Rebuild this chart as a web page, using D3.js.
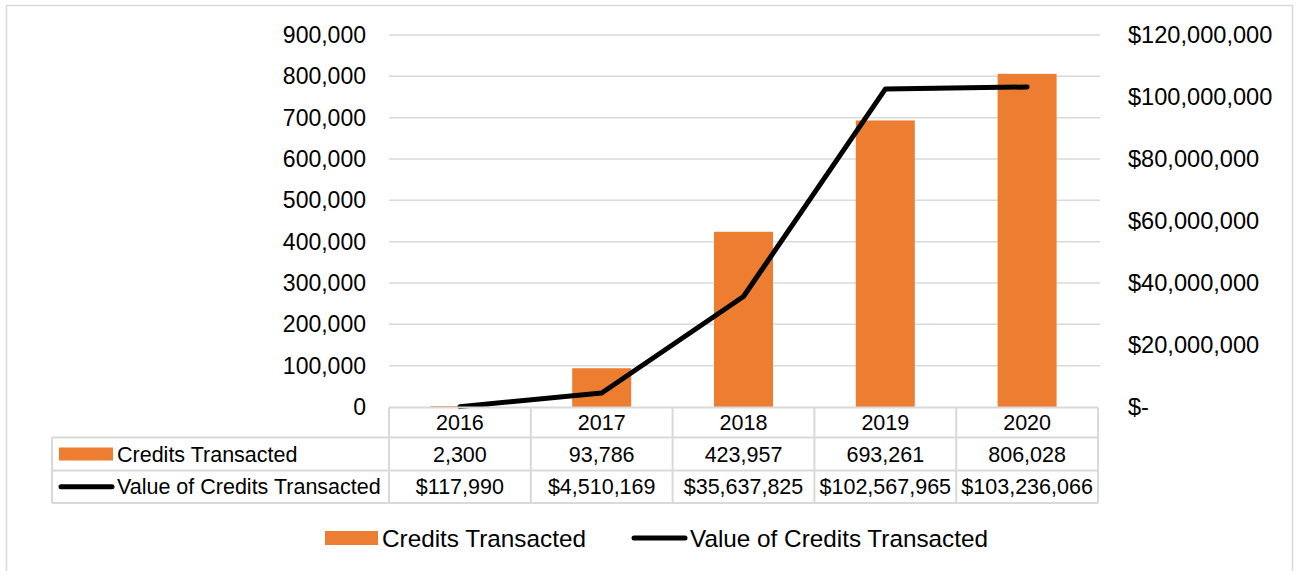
<!DOCTYPE html>
<meta charset="utf-8">
<style>
body { margin: 0; background: #fff; }
text { font-family: "Liberation Sans", Arial, sans-serif; fill: #000; }
.grid line { stroke: #d9d9d9; stroke-width: 1.5; }
.tbl line { stroke: #d9d9d9; stroke-width: 2; }
</style>
<body>
<script src="https://cdn.jsdelivr.net/npm/d3@7"></script>
<script>

var years = ["2016", "2017", "2018", "2019", "2020"];
var credits = [2300, 93786, 423957, 693261, 806028];
var values = [117990, 4510169, 35637825, 102567965, 103236066];
var seriesNames = ["Credits Transacted", "Value of Credits Transacted"];
var leftTicks = [0, 100000, 200000, 300000, 400000, 500000, 600000, 700000, 800000, 900000];
var rightTicks = [0, 20000000, 40000000, 60000000, 80000000, 100000000, 120000000];

var width = 1299, height = 571;
var plotL = 389, plotR = 1098, plotT = 35, plotB = 407;
var orange = "#ed7d31";

var svg = d3.select("body").append("svg")
    .attr("width", width)
    .attr("height", height);

// chart border
svg.append("rect")
    .attr("x", 6.5).attr("y", 5.5)
    .attr("width", 1286).attr("height", 620)
    .attr("fill", "none")
    .attr("stroke", "#d9d9d9")
    .attr("stroke-width", 1.5);

var x = d3.scaleBand().domain(years).range([plotL, plotR]).padding(0);
var y = d3.scaleLinear().domain([0, 900000]).range([plotB, plotT]);
var y2 = d3.scaleLinear().domain([0, 120000000]).range([plotB, plotT]);

// gridlines
svg.append("g").attr("class", "grid")
  .selectAll("line")
    .data(leftTicks.slice(1))
  .enter().append("line")
    .attr("x1", plotL).attr("x2", 1100)
    .attr("y1", function(d) { return y(d); })
    .attr("y2", function(d) { return y(d); });

// left axis labels
var fmt = d3.format(",");
svg.append("g")
  .selectAll("text")
    .data(leftTicks)
  .enter().append("text")
    .attr("x", 366)
    .attr("y", function(d) { return y(d); })
    .attr("dy", "0.35em")
    .attr("text-anchor", "end")
    .style("font-size", "23px")
    .text(function(d) { return d === 0 ? "0" : fmt(d); });

// right axis labels
svg.append("g")
  .selectAll("text")
    .data(rightTicks)
  .enter().append("text")
    .attr("x", 1128)
    .attr("y", function(d) { return y2(d); })
    .attr("dy", "0.35em")
    .style("font-size", "23.6px")
    .text(function(d) { return d === 0 ? "$-" : "$" + fmt(d); });

// bars
var barW = x.bandwidth() * 0.416;
svg.append("g")
  .selectAll("rect")
    .data(credits)
  .enter().append("rect")
    .attr("x", function(d, i) { return x(years[i]) + x.bandwidth() / 2 - barW / 2; })
    .attr("y", function(d) { return y(d); })
    .attr("width", barW)
    .attr("height", function(d) { return plotB - y(d); })
    .attr("fill", orange);

// line
var line = d3.line()
    .x(function(d, i) { return x(years[i]) + x.bandwidth() / 2; })
    .y(function(d) { return y2(d); });

svg.append("path")
    .datum(values)
    .attr("d", line)
    .attr("fill", "none")
    .attr("stroke", "#000")
    .attr("stroke-width", 5)
    .attr("stroke-linecap", "round")
    .attr("stroke-linejoin", "round");

// data table
var rowY = [407.5, 437.5, 470.5, 503];
var tLeft = 52;
var tbl = svg.append("g").attr("class", "tbl");

tbl.append("line").attr("x1", plotL).attr("x2", plotR).attr("y1", rowY[0]).attr("y2", rowY[0]);
[1, 2, 3].forEach(function(r) {
  tbl.append("line").attr("x1", tLeft).attr("x2", plotR).attr("y1", rowY[r]).attr("y2", rowY[r]);
});
tbl.append("line").attr("x1", tLeft).attr("x2", tLeft).attr("y1", rowY[1]).attr("y2", rowY[3]);
years.forEach(function(yr) {
  tbl.append("line").attr("x1", x(yr)).attr("x2", x(yr)).attr("y1", rowY[0]).attr("y2", rowY[3]);
});
tbl.append("line").attr("x1", plotR).attr("x2", plotR).attr("y1", rowY[0]).attr("y2", rowY[3]);

var rows = [
  years,
  credits.map(function(d) { return fmt(d); }),
  values.map(function(d) { return "$" + fmt(d); })
];
rows.forEach(function(r, ri) {
  tbl.selectAll(".r" + ri)
      .data(r)
    .enter().append("text")
      .attr("x", function(d, i) { return x(years[i]) + x.bandwidth() / 2; })
      .attr("y", (rowY[ri] + rowY[ri + 1]) / 2)
      .attr("dy", "0.35em")
      .attr("text-anchor", "middle")
      .style("font-size", "21.5px")
      .text(function(d) { return d; });
});

// table row headers
var r1 = (rowY[1] + rowY[2]) / 2, r2 = (rowY[2] + rowY[3]) / 2;
tbl.append("rect").attr("x", 59).attr("y", r1 - 6.5).attr("width", 54).attr("height", 13).attr("fill", orange);
tbl.append("text").attr("x", 117).attr("y", r1).attr("dy", "0.35em").style("font-size", "21.5px").text(seriesNames[0]);
tbl.append("line").attr("x1", 61).attr("x2", 112).attr("y1", r2).attr("y2", r2)
    .style("stroke", "#000").style("stroke-width", 5).style("stroke-linecap", "round");
tbl.append("text").attr("x", 117).attr("y", r2).attr("dy", "0.35em").style("font-size", "21.5px").text(seriesNames[1]);

// legend
var ly = 538;
svg.append("rect").attr("x", 325).attr("y", ly - 7).attr("width", 53).attr("height", 14).attr("fill", orange);
svg.append("text").attr("x", 382).attr("y", ly).attr("dy", "0.35em").style("font-size", "24.3px").text(seriesNames[0]);
svg.append("line").attr("x1", 634).attr("x2", 685).attr("y1", ly).attr("y2", ly)
    .attr("stroke", "#000").attr("stroke-width", 5).attr("stroke-linecap", "round");
svg.append("text").attr("x", 690).attr("y", ly).attr("dy", "0.35em").style("font-size", "24.3px").text(seriesNames[1]);

</script>
